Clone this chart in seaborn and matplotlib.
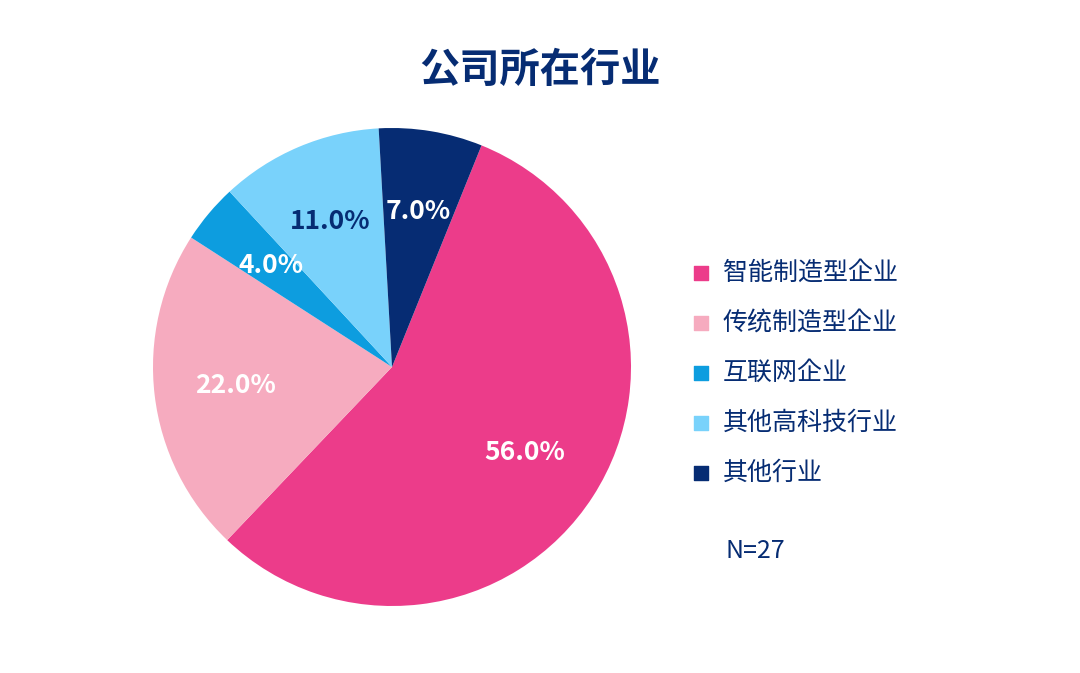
import matplotlib.pyplot as plt
from matplotlib import font_manager
import seaborn as sns

categories = ["智能制造型企业", "传统制造型企业", "互联网企业", "其他高科技行业", "其他行业"]
values = [56.0, 22.0, 4.0, 11.0, 7.0]
colors = ["#ec3c8a", "#f6abbf", "#0d9ddf", "#79d2fb", "#062c73"]
label_colors = ["white", "white", "white", "#062c73", "white"]
sample_note = "N=27"
title = "公司所在行业"

sns.set_theme(style="white")
cjk = [f.name for f in font_manager.fontManager.ttflist if "CJK SC" in f.name]
if not cjk:
    cjk = [f.name for f in font_manager.fontManager.ttflist if "CJK" in f.name]
family = cjk[0] if cjk else "Noto Sans CJK SC"
plt.rcParams["font.family"] = family
plt.rcParams["font.sans-serif"] = [family, "DejaVu Sans"]

fig = plt.figure(figsize=(10.8, 6.73), dpi=100)
ax = fig.add_axes([0, 0, 1, 1])

wedges, texts, autotexts = ax.pie(
    values, colors=colors, startangle=68, counterclock=False,
    center=(392, 306), radius=239, autopct="%.1f%%", pctdistance=0.66,
    wedgeprops=dict(linewidth=0),
    textprops=dict(fontsize=19, fontweight="bold", color="white", family=family))
for t, c in zip(autotexts, label_colors):
    t.set_color(c)
ax.set_xlim(0, 1080)
ax.set_ylim(0, 673)
ax.set_aspect("equal")
ax.axis("off")

ax.text(540, 603, title, ha="center", va="center", fontsize=29,
        fontweight="bold", color="#062c73", family=family)

for i, (cat, col) in enumerate(zip(categories, colors)):
    y = 400 - i * 50
    ax.scatter(701, y, marker="s", s=110, color=col)
    ax.text(723, y, cat, ha="left", va="center", fontsize=18, color="#062c73", family=family)
ax.text(725, 122, sample_note, ha="left", va="center", fontsize=18, color="#062c73", family=family)

fig.savefig("out.png", dpi=100)
